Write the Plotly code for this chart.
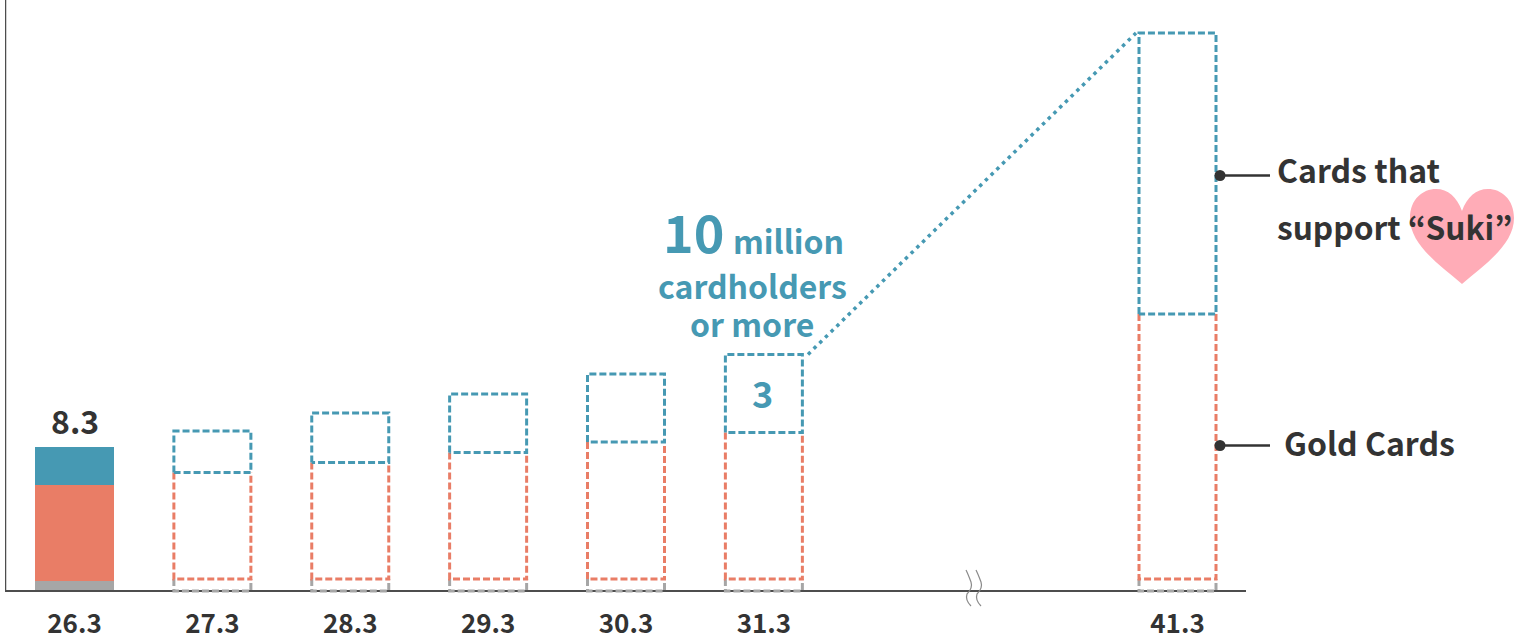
import numpy as np
import plotly.graph_objects as go

# Fiscal-year labels and their slots on the broken time axis
year_labels = ["26.3", "27.3", "28.3", "29.3", "30.3", "31.3", "41.3"]
year_slots = [0, 1, 2, 3, 4, 5, 8]

# Actual cardholders at 26.3 (millions)
actual_other = 0.6
actual_gold = 5.5
actual_suki = 2.2
actual_total_label = "8.3"

# Schematic targets, 27.3 onward
target_other = 0.46
target_gold = [4.10, 4.48, 4.87, 5.27, 5.64, 10.19]
target_suki = [1.59, 1.91, 2.25, 2.62, 3.0, 10.81]

TEAL = "#4699B3"
SALMON = "#E97D66"
GREY = "#A6A6A6"
INK = "#333333"
AXIS = "#4D4D4D"
PINK = "#FFACB7"
FONT = "Noto Sans CJK JP"

W, H = 1514, 638
LEFT, BOTTOM, BASE = 5, 606, 591
X0_PX, SLOT_PX = 74.5, 137.875
Y_PX, Y2_PX = 17.35, 26.0
BOX_HALF = 38.5 / SLOT_PX
BAR_WIDTH = 79 / SLOT_PX


def px(x, y):
    """Page pixels to paper fractions."""
    return (x - LEFT) / (W - LEFT), (BOTTOM - y) / BOTTOM


def slot(x):
    return (x - X0_PX) / SLOT_PX


fig = go.Figure()

# Solid stacked bar for the actual year
for value, colour in [(actual_other, GREY), (actual_gold, SALMON), (actual_suki, TEAL)]:
    fig.add_trace(go.Bar(x=[year_slots[0]], y=[value], width=BAR_WIDTH,
                         marker=dict(color=colour, line=dict(width=0))))

# Dashed outlines for the target years
slots = np.array(year_slots[1:], dtype=float)
gold_top = target_other + np.array(target_gold)
suki_top = gold_top + np.array(target_suki)


def outline(bottom, top, closed=True):
    xs, ys = [], []
    for s, b, t in zip(slots, bottom, top):
        l, r = s - BOX_HALF, s + BOX_HALF
        if closed:
            xs += [l, l, r, r, l, None]
            ys += [b, t, t, b, b, None]
        else:
            xs += [l, l, r, r, None]
            ys += [t, b, b, t, None]
    return xs, ys


def dashed(xs, ys, colour):
    fig.add_trace(go.Scatter(x=xs, y=ys, yaxis="y2", mode="lines",
                             line=dict(color=colour, width=3, dash="7px,3px")))


n = len(slots)
dashed(*outline(np.zeros(n), np.full(n, target_other), closed=False), GREY)
dashed(*outline(np.full(n, target_other), gold_top, closed=False), SALMON)
dashed(*outline(gold_top, suki_top), TEAL)

# Dotted link from the 31.3 box up to the 41.3 box
fig.add_trace(go.Scatter(
    x=[slot(808), slot(1136)], y=[suki_top[4], suki_top[5]], yaxis="y2", mode="lines",
    line=dict(color=TEAL, width=3.5, dash="3.5px,4.5px")))

# Leaders for the two series names
for y_px in (175.5, 445.5):
    y_val = (BASE - y_px) / Y2_PX
    fig.add_trace(go.Scatter(
        x=[slot(1220), slot(1270)], y=[y_val, y_val], yaxis="y2", mode="lines+markers",
        line=dict(color=INK, width=2.5),
        marker=dict(color=INK, size=[11, 0], opacity=1, line=dict(width=0)), cliponaxis=False))

# Baseline stops short of the right edge; the vertical spine runs to the top
x_min, x_max = slot(LEFT), slot(W)
fig.add_trace(go.Scatter(x=[x_min, slot(1246)], y=[0, 0], mode="lines",
                         line=dict(color=AXIS, width=2)))
fig.add_trace(go.Scatter(x=[x_min, x_min], y=[0, BASE / Y_PX], mode="lines",
                         line=dict(color=AXIS, width=2.5)))


def path_from(points):
    """Build an SVG path; each item is a command letter followed by page-pixel pairs."""
    parts = []
    for cmd, coords in points:
        flat = [f"{a:.5f},{b:.5f}" for a, b in (px(*c) for c in coords)]
        parts.append(cmd + " ".join(flat))
    return " ".join(parts) + " Z"


heart = path_from([
    ("M", [(1462, 284)]),
    ("C", [(1440, 265), (1410, 245), (1410, 218)]),
    ("C", [(1410, 199), (1423, 189), (1436, 189)]),
    ("C", [(1448, 189), (1457, 197), (1462, 211)]),
    ("C", [(1467, 197), (1476, 189), (1488, 189)]),
    ("C", [(1501, 189), (1514, 199), (1514, 218)]),
    ("C", [(1514, 245), (1484, 265), (1462, 284)]),
])

shapes = [dict(type="path", path=heart, xref="paper", yref="paper",
               fillcolor=PINK, line=dict(width=0), layer="below")]

# Axis-break squiggles
for dx in (0, 10):
    points = [(966 + dx, 570), (971 + dx, 582), (967 + dx, 594), (971 + dx, 606)]
    a, b, c, d = [px(*p) for p in points]
    ctrl1 = px(968 + dx, 574)
    ctrl2 = px(973 + dx, 588)
    ctrl3 = px(965 + dx, 600)
    shapes.append(dict(
        type="path", xref="paper", yref="paper",
        path=(f"M{a[0]:.5f},{a[1]:.5f} Q{ctrl1[0]:.5f},{ctrl1[1]:.5f} {b[0]:.5f},{b[1]:.5f} "
              f"Q{ctrl2[0]:.5f},{ctrl2[1]:.5f} {c[0]:.5f},{c[1]:.5f} "
              f"Q{ctrl3[0]:.5f},{ctrl3[1]:.5f} {d[0]:.5f},{d[1]:.5f}"),
        line=dict(color="#8A8A8A", width=1.2)))


def label(x, y, text, size, colour=INK, anchor="center"):
    xp, yp = px(x, y)
    return dict(x=xp, y=yp, xref="paper", yref="paper", text=text, showarrow=False,
                xanchor=anchor, yanchor="middle", borderpad=0,
                font=dict(family=FONT, size=size, color=colour, weight=700))


annotations = [
    dict(x=year_slots[0], y=actual_other + actual_gold + actual_suki, xref="x", yref="y",
         text=actual_total_label, showarrow=False, yanchor="bottom", yshift=2,
         font=dict(family=FONT, size=32, color=INK, weight=700)),
    label(693, 230, "10", 52, TEAL),
    label(788, 240, "million", 32, TEAL),
    label(752, 284.5, "cardholders", 32, TEAL),
    label(752, 323, "or more", 32, TEAL),
    label(762, 392, "3", 36, TEAL),
    label(1276, 169, "Cards that", 32, anchor="left"),
    label(1276, 226, "support “Suki”", 31.7, anchor="left"),
    label(1283, 442, "Gold Cards", 32, anchor="left"),
]

fig.update_layout(
    width=W, height=H, autosize=False, showlegend=False, barmode="stack",
    paper_bgcolor="white", plot_bgcolor="white",
    margin=dict(l=LEFT, r=0, t=0, b=H - BOTTOM, pad=0),
    shapes=shapes, annotations=annotations,
    xaxis=dict(range=[x_min, x_max], tickmode="array", tickvals=year_slots, automargin=False,
               ticktext=year_labels, showgrid=False, zeroline=False, showline=False,
               ticks="", tickfont=dict(family=FONT, size=26, color=INK, weight=700)),
    yaxis=dict(range=[-(BOTTOM - BASE) / Y_PX, BASE / Y_PX], visible=False, fixedrange=True,
               automargin=False),
    yaxis2=dict(range=[-(BOTTOM - BASE) / Y2_PX, BASE / Y2_PX], visible=False,
                overlaying="y", fixedrange=True, automargin=False),
)

fig.write_html("out.html", config=dict(displayModeBar=False))
